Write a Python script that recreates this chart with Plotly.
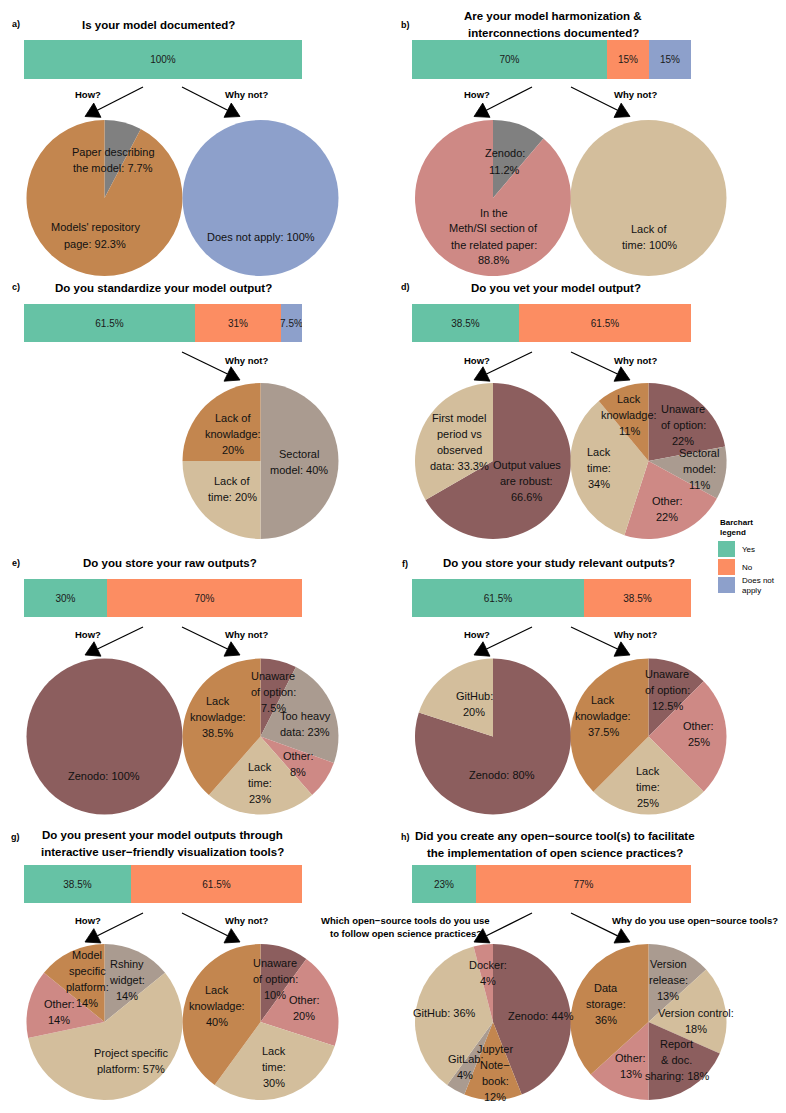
import math
import plotly.graph_objects as go

W, H = 786, 1113
OFF = 8  # page body margin of the html page
FW, FH = W - OFF, H - OFF

# ---------------- data ----------------
bar_categories = ["Yes", "No", "Does not apply"]
bar_a = [100, 0, 0]
bar_b = [70, 15, 15]
bar_c = [61.5, 31, 7.5]
bar_d = [38.5, 61.5, 0]
bar_e = [30, 70, 0]
bar_f = [61.5, 38.5, 0]
bar_g = [38.5, 61.5, 0]
bar_h = [23, 77, 0]

pie_a_how = ["Paper describing the model", "Models' repository page"]
pie_a_how_values = [7.7, 92.3]
pie_a_why = ["Does not apply"]
pie_a_why_values = [100]
pie_b_how = ["Zenodo", "In the Meth/SI section of the related paper"]
pie_b_how_values = [11.2, 88.8]
pie_b_why = ["Lack of time"]
pie_b_why_values = [100]
pie_c_why = ["Sectoral model", "Lack of time", "Lack of knowladge"]
pie_c_why_values = [40, 20, 20]
pie_d_how = ["Output values are robust", "First model period vs observed data"]
pie_d_how_values = [66.6, 33.3]
pie_d_why = ["Unaware of option", "Sectoral model", "Other", "Lack time", "Lack knowladge"]
pie_d_why_values = [22, 11, 22, 34, 11]
pie_e_how = ["Zenodo"]
pie_e_how_values = [100]
pie_e_why = ["Unaware of option", "Too heavy data", "Other", "Lack time", "Lack knowladge"]
pie_e_why_values = [7.5, 23, 8, 23, 38.5]
pie_f_how = ["Zenodo", "GitHub"]
pie_f_how_values = [80, 20]
pie_f_why = ["Unaware of option", "Other", "Lack time", "Lack knowladge"]
pie_f_why_values = [12.5, 25, 25, 37.5]
pie_g_how = ["Rshiny widget", "Project specific platform", "Other", "Model specific platform"]
pie_g_how_values = [14, 57, 14, 14]
pie_g_why = ["Unaware of option", "Other", "Lack time", "Lack knowladge"]
pie_g_why_values = [10, 20, 30, 40]
pie_h_how = ["Zenodo", "Jupyter Note−book", "GitLab", "GitHub", "Docker"]
pie_h_how_values = [44, 12, 4, 36, 4]
pie_h_why = ["Version release", "Version control", "Report & doc. sharing", "Other", "Data storage"]
pie_h_why_values = [13, 18, 18, 13, 36]

titles = {
    "a": ["Is your model documented?"],
    "b": ["Are your model harmonization &amp;", "interconnections documented?"],
    "c": ["Do you standardize your model output?"],
    "d": ["Do you vet your model output?"],
    "e": ["Do you store your raw outputs?"],
    "f": ["Do you store your study relevant outputs?"],
    "g": ["Do you present your model outputs through", "interactive user−friendly visualization tools?"],
    "h": ["Did you create any open−source tool(s) to facilitate", "the implementation of open science practices?"],
}

# label wrapping (text layout), {v} = value
wrap_a_how = ["Paper describing\nthe model: {v}", "Models' repository\npage: {v}"]
wrap_a_why = ["Does not apply: {v}"]
wrap_b_how = ["Zenodo:\n{v}", "In the\nMeth/SI section of\nthe related paper:\n{v}"]
wrap_b_why = ["Lack of\ntime: {v}"]
wrap_c_why = ["Sectoral\nmodel: {v}", "Lack of\ntime: {v}", "Lack of\nknowladge:\n{v}"]
wrap_d_how = ["Output values\nare robust:\n{v}", "First model\nperiod vs\nobserved\ndata: {v}"]
wrap_d_why = ["Unaware\nof option:\n{v}", "Sectoral\nmodel:\n{v}", "Other:\n{v}", "Lack\ntime:\n{v}", "Lack\nknowladge:\n{v}"]
wrap_e_how = ["Zenodo: {v}"]
wrap_e_why = ["Unaware\nof option:\n{v}", "Too heavy\ndata: {v}", "Other:\n{v}", "Lack\ntime:\n{v}", "Lack\nknowladge:\n{v}"]
wrap_f_how = ["Zenodo: {v}", "GitHub:\n{v}"]
wrap_f_why = ["Unaware\nof option:\n{v}", "Other:\n{v}", "Lack\ntime:\n{v}", "Lack\nknowladge:\n{v}"]
wrap_g_how = ["Rshiny\nwidget:\n{v}", "Project specific\nplatform: {v}", "Other:\n{v}", "Model\nspecific\nplatform:\n{v}"]
wrap_g_why = ["Unaware\nof option:\n{v}", "Other:\n{v}", "Lack\ntime:\n{v}", "Lack\nknowladge:\n{v}"]
wrap_h_how = ["Zenodo: {v}", "Jupyter\nNote−\nbook:\n{v}", "GitLab:\n{v}", "GitHub: {v}", "Docker:\n{v}"]
wrap_h_why = ["Version\nrelease:\n{v}", "Version control:\n{v}", "Report\n&amp; doc.\nsharing: {v}", "Other:\n{v}", "Data\nstorage:\n{v}"]

# ---------------- styles / layout ----------------
FONT = "Liberation Sans, Arial, Helvetica, sans-serif"
MAUVE = "#8C5E5E"
TAN = "#D3BE9C"
BROWN = "#C3864F"
PINK = "#CE8985"
TAUPE = "#AA9B90"
GRAY = "#808080"
BAR_COLORS = ["#66C2A5", "#FC8D62", "#8DA0CB"]
DNA = BAR_COLORS[2]

LX = (24, 302)
RX = (412, 691)
ROW_BAR_Y = [(40, 79), (304, 342), (579, 617), (865, 903)]
ROW_ARROW_Y = [(87, 116.5), (352, 380), (627, 655), (913, 942)]
ROW_PIE_Y = [198, 461, 736.5, 1022]
PIE_R = 78
COL_PIE_X = {"L": (104.5, 260.5), "R": (493, 648.5)}


def px(x):
    return (x - OFF) / FW


def py(y):
    return 1 - (y - OFF) / FH


fig = go.Figure()
annotations = []
shapes = []

# ---- bars ----
bar_panels = [
    (bar_a, LX, 0), (bar_b, RX, 0), (bar_c, LX, 1), (bar_d, RX, 1),
    (bar_e, LX, 2), (bar_f, RX, 2), (bar_g, LX, 3), (bar_h, RX, 3),
]
layout_axes = {}
for i, (vals, xr, row) in enumerate(bar_panels):
    n = i + 1
    sfx = "" if n == 1 else str(n)
    y0, y1 = ROW_BAR_Y[row]
    layout_axes["xaxis" + sfx] = dict(domain=[px(xr[0]), px(xr[1])], range=[0, 100],
                                      visible=False, fixedrange=True, anchor="y" + sfx)
    layout_axes["yaxis" + sfx] = dict(domain=[py(y1), py(y0)], range=[-0.5, 0.5],
                                      visible=False, fixedrange=True, anchor="x" + sfx)
    for cat, v, col in zip(bar_categories, vals, BAR_COLORS):
        if v <= 0:
            continue
        fig.add_trace(go.Bar(
            x=[v], y=[0], orientation="h", width=1, name=cat,
            marker=dict(color=col, line=dict(width=0)),
            text=[f"{v:g}%"], textposition="inside", insidetextanchor="middle",
            textangle=0, constraintext="none",
            textfont=dict(size=10, color="#1a1a1a", family=FONT),
            xaxis="x" + sfx, yaxis="y" + sfx, hoverinfo="skip", showlegend=False,
        ))

# ---- pies ----
pies = [
    (pie_a_how, pie_a_how_values, wrap_a_how, [GRAY, BROWN], "L", 0, 0, [(8.5, -38), (-9.5, 37.5)]),
    (pie_a_why, pie_a_why_values, wrap_a_why, [DNA], "L", 1, 0, [(0, 39)]),
    (pie_b_how, pie_b_how_values, wrap_b_how, [GRAY, PINK], "R", 0, 0, [(11.7, -36.5), (1, 38.5)]),
    (pie_b_why, pie_b_why_values, wrap_b_why, [TAN], "R", 1, 0, [(0.5, 39)]),
    (pie_c_why, pie_c_why_values, wrap_c_why, [TAUPE, TAN, BROWN], "L", 1, 1,
     [(38.5, 1), (-28.5, 28), (-28, -27)]),
    (pie_d_how, pie_d_how_values, wrap_d_how, [MAUVE, TAN], "R", 0, 1, [(33.7, 20), (-34, -19)]),
    (pie_d_why, pie_d_why_values, wrap_d_why, [MAUVE, TAUPE, PINK, TAN, BROWN], "R", 1, 1,
     [(34.5, -36), (50.5, 8), (18.5, 47.7), (-49.5, 7), (-19.5, -46.3)]),
    (pie_e_how, pie_e_how_values, wrap_e_how, [MAUVE], "L", 0, 2, [(-0.5, 39.5)]),
    (pie_e_why, pie_e_why_values, wrap_e_why, [MAUVE, TAUPE, PINK, TAN, BROWN], "L", 1, 2,
     [(12.5, -44.5), (44.5, -12.5), (37.5, 27.5), (-0.5, 46.5), (-43, -19.5)]),
    (pie_f_how, pie_f_how_values, wrap_f_how, [MAUVE, TAN], "R", 0, 2, [(8.8, 38.5), (-19, -32.8)]),
    (pie_f_why, pie_f_why_values, wrap_f_why, [MAUVE, PINK, TAN, BROWN], "R", 1, 2,
     [(18.5, -46.5), (50.3, -2.8), (-0.5, 50.5), (-45.5, -20.8)]),
    (pie_g_how, pie_g_how_values, wrap_g_how, [TAUPE, TAN, PINK, BROWN], "L", 0, 3,
     [(22.5, -42), (26.5, 39), (-45.5, -10.5), (-17.5, -43)]),
    (pie_g_why, pie_g_why_values, wrap_g_why, [MAUVE, PINK, TAN, BROWN], "L", 1, 3,
     [(14.5, -43), (43.5, -14), (13.5, 45), (-43.8, -16.3)]),
    (pie_h_how, pie_h_how_values, wrap_h_how, [MAUVE, BROWN, TAUPE, TAN, PINK], "R", 0, 3,
     [(48.3, -6), (2.2, 51), (-27.5, 45), (-49, -9), (-5.5, -49)]),
    (pie_h_why, pie_h_why_values, wrap_h_why, [TAUPE, TAN, MAUVE, PINK, BROWN], "R", 1, 3,
     [(19.5, -42), (47, -0.7), (28.3, 38), (-17.7, 44), (-42.5, -18)]),
]

LINE_H = 16
for names, vals, wraps, cols, colkey, side, row, offs in pies:
    cx = COL_PIE_X[colkey][side]
    cy = ROW_PIE_Y[row]
    fig.add_trace(go.Pie(
        labels=names, values=vals, sort=False, direction="clockwise", rotation=0,
        marker=dict(colors=cols, line=dict(width=0)), textinfo="none",
        hoverinfo="label+value", showlegend=False,
        domain=dict(x=[px(cx - PIE_R), px(cx + PIE_R)], y=[py(cy + PIE_R), py(cy - PIE_R)]),
    ))
    for v, tmpl, (dx, dy) in zip(vals, wraps, offs):
        lines = tmpl.format(v=f"{v:g}%").split("\n")
        nl = len(lines)
        for k, ln in enumerate(lines):
            yy = cy + dy + (k - (nl - 1) / 2) * LINE_H
            annotations.append(dict(
                x=px(cx + dx), y=py(yy), xref="paper", yref="paper", text=ln,
                showarrow=False, xanchor="center", yanchor="middle",
                font=dict(size=11, color="#111111", family=FONT)))

# ---- titles ----
title_pos = {
    "a": (158, [25]), "b": (553, [16.5, 33]), "c": (163.5, [288]), "d": (556, [288]),
    "e": (170, [563]), "f": (559, [563]), "g": (162, [835, 852]), "h": (555, [836, 853]),
}
for key, lines in titles.items():
    tx, ys = title_pos[key]
    for ln, yy in zip(lines, ys):
        annotations.append(dict(x=px(tx), y=py(yy), xref="paper", yref="paper",
                                text=f"<b>{ln}</b>", showarrow=False, xanchor="center",
                                yanchor="middle", font=dict(size=11.5, color="#000", family=FONT)))

letter_pos = {"a": (15.5, 24), "b": (405, 25), "c": (15.5, 287), "d": (405, 287),
              "e": (15.5, 563), "f": (405, 564), "g": (16, 837), "h": (405, 837)}
for key, (lx, ly) in letter_pos.items():
    annotations.append(dict(x=px(lx), y=py(ly), xref="paper", yref="paper",
                            text=f"<b>{key})</b>", showarrow=False, xanchor="center",
                            yanchor="middle", font=dict(size=9, color="#000", family=FONT)))

# ---- sub labels ----
sub_labels = [
    (88, 95, "How?"), (246, 95, "Why not?"), (477, 95, "How?"), (635, 95, "Why not?"),
    (246, 360, "Why not?"), (477, 360, "How?"), (635, 360, "Why not?"),
    (88, 634, "How?"), (246, 634, "Why not?"), (477, 634, "How?"), (635, 634, "Why not?"),
    (88, 920, "How?"), (246, 920, "Why not?"),
    (406, 920, "Which open−source tools do you use"), (406, 933, "to follow open science practices?"),
    (695, 920, "Why do you use open−source tools?"),
]
for sx, sy, t in sub_labels:
    annotations.append(dict(x=px(sx), y=py(sy), xref="paper", yref="paper",
                            text=f"<b>{t}</b>", showarrow=False, xanchor="center",
                            yanchor="middle", font=dict(size=9.5, color="#000", family=FONT)))

# ---- arrows ----
ARROW_X = {"L": [(143, 85), (182, 240)], "R": [(532, 474), (571, 630)]}
arrow_list = [("L", 0, [0, 1]), ("R", 0, [0, 1]), ("L", 1, [1]), ("R", 1, [0, 1]),
              ("L", 2, [0, 1]), ("R", 2, [0, 1]), ("L", 3, [0, 1]), ("R", 3, [0, 1])]


def arrow(sx, sy, tx, ty, L=16.0):
    dx, dy = tx - sx, ty - sy
    d = math.hypot(dx, dy)
    bx, by = -dx / d, -dy / d
    pts = []
    for a in (math.radians(30), math.radians(-30)):
        rx = bx * math.cos(a) - by * math.sin(a)
        ry = bx * math.sin(a) + by * math.cos(a)
        pts.append((tx + L * rx, ty + L * ry))
    mx, my = tx + L * math.cos(math.radians(30)) * bx, ty + L * math.cos(math.radians(30)) * by
    shapes.append(dict(type="line", xref="paper", yref="paper", x0=px(sx), y0=py(sy),
                       x1=px(mx), y1=py(my), line=dict(color="#000", width=1.2)))
    path = (f"M {px(pts[0][0])} {py(pts[0][1])} L {px(tx)} {py(ty)} "
            f"L {px(pts[1][0])} {py(pts[1][1])} Z")
    shapes.append(dict(type="path", xref="paper", yref="paper", path=path,
                       fillcolor="#000", line=dict(color="#000", width=0.8)))


for colkey, row, which in arrow_list:
    ys, yt = ROW_ARROW_Y[row]
    for w in which:
        xs, xt = ARROW_X[colkey][w]
        arrow(xs, ys, xt, yt)

# ---- legend (barchart) ----
leg_x0, leg_x1 = 718, 735
leg_rows = [(541, 557), (559, 575), (577, 593)]
for cat, col, (k0, k1) in zip(bar_categories, BAR_COLORS, leg_rows):
    shapes.append(dict(type="rect", xref="paper", yref="paper", x0=px(leg_x0), x1=px(leg_x1),
                       y0=py(k1), y1=py(k0), fillcolor=col, line=dict(width=0)))
    lab = cat.replace("Does not apply", "Does not<br>apply")
    annotations.append(dict(x=px(leg_x1 + 5), y=py((k0 + k1) / 2), xref="paper", yref="paper",
                            text=lab, showarrow=False, xanchor="left", yanchor="middle", align="left",
                            font=dict(size=8, color="#000", family=FONT)))
annotations.append(dict(x=px(leg_x0), y=py(527), xref="paper", yref="paper",
                        text="<b>Barchart<br>legend</b>", showarrow=False, xanchor="left",
                        yanchor="middle", align="left", font=dict(size=8, color="#000", family=FONT)))

fig.update_layout(
    width=FW, height=FH, margin=dict(l=0, r=0, t=0, b=0),
    paper_bgcolor="white", plot_bgcolor="rgba(0,0,0,0)",
    barmode="stack", bargap=0, showlegend=False,
    font=dict(family=FONT, color="#000"),
    annotations=annotations, shapes=shapes,
    **layout_axes,
)

fig.write_html("out.html")
